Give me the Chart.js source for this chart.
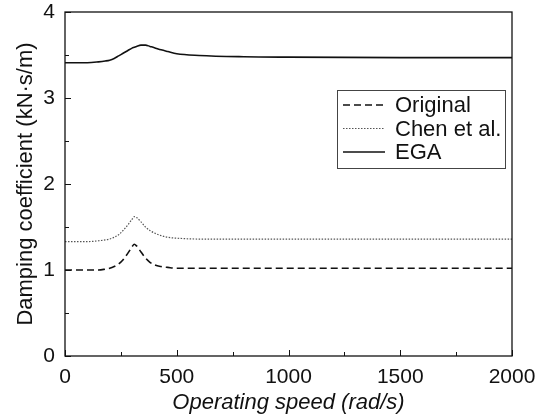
<!DOCTYPE html>
<html>
<head>
<meta charset="utf-8">
<script src="https://cdn.jsdelivr.net/npm/chart.js@4/dist/chart.umd.min.js"></script>
<style>
  html, body { margin: 0; padding: 0; background: #fff; }
  #wrap { width: 544px; height: 416px; position: relative; }
</style>
</head>
<body>
<div id="wrap"><canvas id="c" width="544" height="416"></canvas></div>
<script>
const speeds = [0, 100, 150, 180, 200, 220, 240, 260, 280, 300, 310, 320, 340, 360, 380, 400, 430, 460, 500, 600, 800, 1000, 1500, 2000];
const original = [1.00, 1.00, 1.00, 1.01, 1.02, 1.04, 1.07, 1.12, 1.19, 1.27, 1.30, 1.28, 1.21, 1.14, 1.09, 1.06, 1.04, 1.03, 1.02, 1.02, 1.02, 1.02, 1.02, 1.02];
const chen = [1.33, 1.33, 1.34, 1.35, 1.36, 1.38, 1.41, 1.46, 1.52, 1.59, 1.62, 1.61, 1.56, 1.50, 1.46, 1.43, 1.40, 1.38, 1.37, 1.36, 1.36, 1.36, 1.36, 1.36];
const ega = [3.41, 3.41, 3.42, 3.43, 3.44, 3.46, 3.49, 3.52, 3.55, 3.58, 3.59, 3.60, 3.615, 3.615, 3.60, 3.585, 3.56, 3.54, 3.515, 3.495, 3.48, 3.475, 3.47, 3.47];
const seriesNames = ['Original', 'Chen et al.', 'EGA'];
const xTicks = [0, 500, 1000, 1500, 2000];
const yTicks = [0, 1, 2, 3, 4];

const font = 'Liberation Sans, Arial, sans-serif';
const pts = arr => speeds.map((s, i) => ({ x: s, y: arr[i] }));

// box, inward ticks and legend drawn on top
const frame = {
    id: 'frame',
    afterDraw(chart) {
        const { ctx, chartArea: a, scales: { x, y } } = chart;
        ctx.save();
        ctx.strokeStyle = '#111';
        ctx.lineWidth = 1.3;
        ctx.strokeRect(a.left, a.top, a.right - a.left, a.bottom - a.top);
        ctx.lineWidth = 1;
        for (let v = 0; v <= 2000; v += 250) {
            const px = Math.round(x.getPixelForValue(v)) + 0.5;
            const len = v % 500 === 0 ? 6 : 4;
            ctx.beginPath(); ctx.moveTo(px, a.bottom); ctx.lineTo(px, a.bottom - len); ctx.stroke();
        }
        for (let v = 0; v <= 4; v += 0.5) {
            const py = Math.round(y.getPixelForValue(v)) + 0.5;
            const len = v % 1 === 0 ? 6 : 4;
            ctx.beginPath(); ctx.moveTo(a.left, py); ctx.lineTo(a.left + len, py); ctx.stroke();
        }
        // legend
        const lx = 337, ly = 90, lw = 168, lh = 78;
        ctx.fillStyle = '#fff';
        ctx.fillRect(lx, ly, lw, lh);
        ctx.strokeStyle = '#444';
        ctx.lineWidth = 1;
        ctx.strokeRect(lx + 0.5, ly + 0.5, lw, lh);
        chart.data.datasets.forEach((ds, i) => {
            const cy = ly + 15 + i * 23.5;
            ctx.strokeStyle = ds.borderColor;
            ctx.lineWidth = ds.borderWidth;
            ctx.setLineDash(ds.borderDash || []);
            ctx.beginPath(); ctx.moveTo(lx + 6, cy); ctx.lineTo(lx + 48, cy); ctx.stroke();
            ctx.setLineDash([]);
            ctx.fillStyle = '#111';
            ctx.font = '22px ' + font;
            ctx.textBaseline = 'middle';
            ctx.fillText(ds.label, lx + 58, cy + 1);
        });
        ctx.restore();
    }
};

new Chart(document.getElementById('c'), {
    type: 'line',
    data: {
        datasets: [
            { label: seriesNames[0], data: pts(original), borderColor: '#111', borderWidth: 1.6, borderDash: [7, 4] },
            { label: seriesNames[1], data: pts(chen), borderColor: '#555', borderWidth: 1.2, borderDash: [1.5, 1.5] },
            { label: seriesNames[2], data: pts(ega), borderColor: '#111', borderWidth: 1.6 }
        ]
    },
    options: {
        responsive: false,
        animation: false,
        parsing: false,
        elements: { point: { radius: 0 }, line: { cubicInterpolationMode: 'monotone', fill: false } },
        layout: { padding: { top: 12, right: 32, left: 0, bottom: 0 } },
        plugins: { legend: { display: false }, tooltip: { enabled: false } },
        scales: {
            x: {
                type: 'linear', min: 0, max: 2000,
                afterBuildTicks: s => { s.ticks = xTicks.map(v => ({ value: v })); },
                afterFit: s => { s.height = 60; s.paddingLeft = 0; s.paddingRight = 0; },
                grid: { display: false, drawTicks: false },
                border: { display: false },
                ticks: { color: '#111', font: { family: font, size: 21 }, padding: 9, maxRotation: 0,
                         callback: v => String(v) },
                title: { display: true, text: 'Operating speed (rad/s)', color: '#111', padding: { top: 0, bottom: 0 },
                         font: { family: font, size: 22, style: 'italic' } }
            },
            y: {
                min: 0, max: 4,
                afterBuildTicks: s => { s.ticks = yTicks.map(v => ({ value: v })); },
                afterFit: s => { s.width = 65; s.paddingTop = 0; s.paddingBottom = 0; },
                grid: { display: false, drawTicks: false },
                border: { display: false },
                ticks: { color: '#111', font: { family: font, size: 21 }, padding: 10 },
                title: { display: true, text: 'Damping coefficient (kN·s/m)', color: '#111', padding: { top: 13, bottom: 0 },
                         font: { family: font, size: 22 } }
            }
        }
    },
    plugins: [frame]
});
</script>
</body>
</html>
